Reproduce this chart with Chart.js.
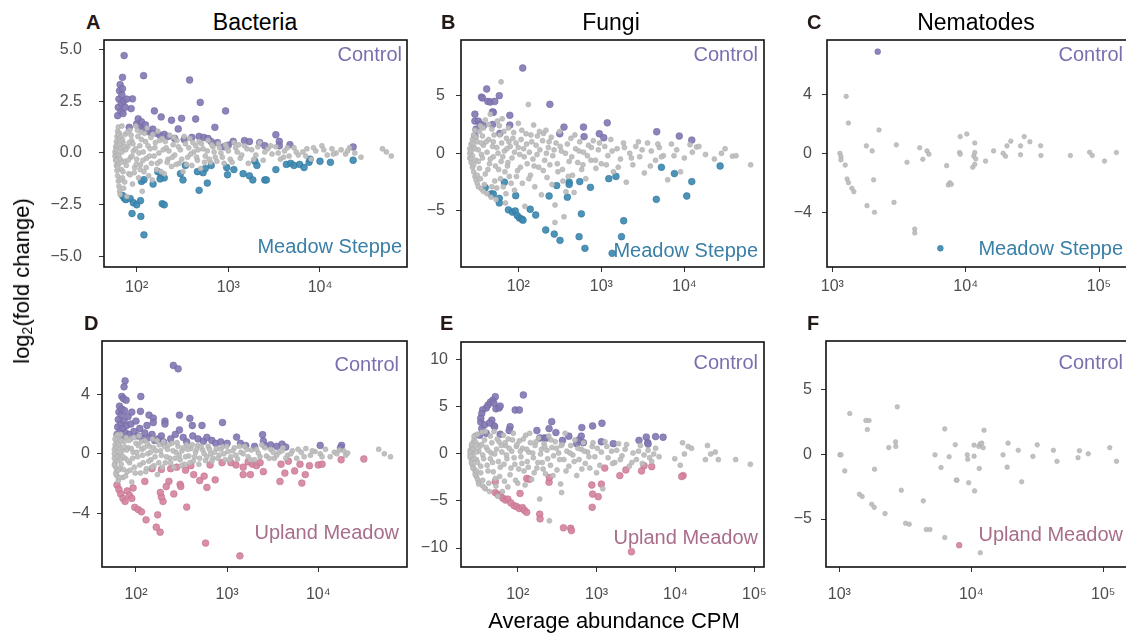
<!DOCTYPE html>
<html><head><meta charset="utf-8">
<script src="https://cdn.jsdelivr.net/npm/chart.js@4"></script>
<style>
html,body{margin:0;padding:0;background:#fff;}
body{width:1126px;height:636px;position:relative;overflow:hidden;font-family:"Liberation Sans",Arial,sans-serif;}
canvas{position:absolute;}
.t{position:absolute;white-space:nowrap;line-height:1;color:#000;}
.ttl{font-size:23px;transform:translateX(-50%);}
.let{font-size:20px;font-weight:bold;color:#231815;}
</style></head><body>
<script>
// ---------- DATA (x = average abundance CPM, y = log2 fold change) ----------
const panelTitles = ['Bacteria','Fungi','Nematodes'];
const panelLetters = ['A','B','C','D','E','F'];
const xTitle = 'Average abundance CPM';

const xTicksA = [100,1000,10000];
const xTicksB = [100,1000,10000];
const xTicksC = [1000,10000,100000];
const xTicksD = [100,1000,10000];
const xTicksE = [100,1000,10000,100000];
const xTicksF = [1000,10000,100000];
const yTicksA = [-5,-2.5,0,2.5,5];
const yTicksB = [-5,0,5];
const yTicksC = [-4,0,4];
const yTicksD = [-4,0,4];
const yTicksE = [-10,-5,0,5,10];
const yTicksF = [-5,0,5];

const aGray = [[58,0.05],[58,-0.15],[59,0.3],[59,-0.35],[60,0.55],[60,-0.6],[61,0.8],[61,-0.85],[62,1.05],[62,-1.1],[63,1.25],[63,-1.35],[64,-1.6],[65,-1.85],[66,-2.0],[60,0.15],[61,-0.1],[62,0.45],[63,-0.55],[64,0.7],[65,0.95],[66,-0.3],[67,0.2],[68,-0.8],[69,1.3],[70,-1.2],[71,0.5],[72,-1.7],[74,-0.4],[75,0.9],
[78,-2.1],[80,0.3],[82,-1.0],[84,1.1],[86,-0.2],[88,0.6],[90,-1.5],[92,0.1],[95,-0.7],[98,1.3],[100,-0.3],[103,0.8],[105,-1.2],[108,0.35],[110,-0.55],[112,1.0],[115,-1.85],[118,0.05],[120,-0.9],[125,0.55],[128,-0.25],[130,1.2],[135,-1.1],[140,0.2],[145,-0.5],[150,0.9],
[155,-0.15],[160,0.5],[165,-0.8],[170,1.05],[175,0.0],[180,-0.4],[190,0.7],[200,-1.0],[210,0.25],[220,-0.3],[230,0.85],[240,-0.65],[250,0.4],[260,-0.1],[275,0.6],[290,-0.5],[300,0.15],[320,-0.9],[340,0.45],[360,-0.2],[380,0.7],[400,-0.6],[420,0.05],[440,0.35],[460,-0.35],[480,0.55],[500,-0.75],
[530,0.2],[560,-0.15],[600,0.6],[640,-0.45],[680,0.3],[720,-0.2],[780,0.45],[830,0.0],[900,-0.5],[960,0.25],[1050,-0.3],[1150,0.5],[1250,0.05],[1350,-0.25],[1500,0.35],[1650,-0.5],[1800,0.15],[2000,-0.1],[2200,0.5],[2400,-0.35],[2700,0.2],[3000,-0.05],[3300,0.3],[3700,-0.3],[4100,0.1],[4600,-0.15],
[5200,0.25],[5800,-0.1],[6500,0.05],[7200,0.2],[8000,-0.3],[9000,0.1],[10500,0.35],[12000,-0.1],[13500,0.2],[15000,0.0],[17000,0.15],[19000,-0.05],[21000,0.25],[28000,-0.2],[48000,0.2],[53000,0.05],[60000,-0.15],
[60,-0.35],[61,0.35],[62,-0.7],[63,0.9],[64,-0.1],[65,0.4],[66,-1.3],[67,0.75],[68,-0.45],[69,0.05],[70,0.65],[71,-0.9],[73,0.3],[74,-1.4],[76,0.15],[77,-0.6],[79,1.0],[81,-0.35],[83,0.5],[85,-1.05],[87,0.85],[89,-0.15],[91,0.45],[94,-0.95],[97,0.2],[99,-0.55],[102,1.1],[106,0.0],[109,-0.8],[113,0.65],[117,-0.35],[122,0.95],[127,-0.7],[133,0.35],[138,-0.15],[143,0.75],[148,-1.3],[158,0.25],[168,-0.5],[178,0.6],[185,-0.9],[195,0.15],[205,0.55],[215,-0.45],[225,0.1],[245,-0.2],[255,0.75],[270,-0.55],[285,0.3],[310,-0.3],[330,0.8],[350,-0.55],[370,0.25],[390,-0.05],[410,0.5],[450,-0.2],[470,0.15],[510,0.45],[550,-0.45],[590,0.1],[620,-0.3],[660,0.4],[700,0.05],[750,-0.4],[800,0.25],[860,-0.2],[930,0.4],[1000,0.1],[1100,-0.45],[1200,0.25],[1300,0.4],[1400,-0.1],[1600,0.2],[1900,-0.3],[2100,0.3],[2500,0.05],[2900,0.35],[3500,0.0],[4000,-0.2],[4400,0.25],[5500,0.05],[7000,-0.15],[8500,0.25],[11000,0.15],[14000,-0.05],[20000,0.1],[24000,0.0]];
const aControl = [[73,4.7],[70,3.65],[119,3.73],[378,3.52],[494,2.44],[933,2.03],[156,2.03],[185,1.74],[240,1.58],[309,1.67],[440,1.64],[713,1.24],[284,1.16],[90,2.61],[87,2.14],[83,1.24],[62,1.8],[63,2.2],[64,2.6],[65,3.0],[66,3.3],[67,2.0],[68,2.4],[69,2.8],[70,3.1],[71,1.9],[72,2.5],[75,2.2],[78,2.6],[100,1.4],[104,1.65],[108,1.3],[113,1.5],[118,1.15],[125,1.35],[132,1.1],[140,1.0],[150,1.15],[165,0.95],[180,0.85],[200,0.9],[220,0.8],[260,0.7],[330,0.65],[400,0.75],[480,0.8],[540,0.75],[600,0.7],[650,0.55],[760,0.5],[900,0.3],[1130,0.56],[1000,0.38],[1500,0.6],[1700,0.55],[2200,0.5],[2500,0.35],[3300,0.88],[3600,0.56],[3600,0.35],[4700,0.4],[23000,0.29]];
const aSteppe = [[120,-3.95],[111,-3.06],[89,-2.92],[73,-2.17],[70,-2.05],[76,-2.25],[85,-2.2],[92,-2.4],[100,-2.5],[110,-2.3],[190,-2.45],[200,-2.5],[113,-1.37],[120,-1.29],[151,-1.5],[170,-0.9],[185,-1.1],[200,-1.2],[180,-1.25],[300,-1.0],[320,-1.3],[340,-0.6],[480,-1.8],[460,-0.9],[530,-0.95],[590,-1.45],[560,-0.75],[650,-0.6],[960,-0.7],[980,-1.05],[1150,-0.8],[1450,-1.0],[1700,-1.1],[1850,-1.3],[1950,-0.4],[2050,-0.6],[2500,-1.3],[2600,-1.3],[3300,-0.8],[4300,-0.55],[4800,-0.5],[5200,-0.6],[6000,-0.55],[6700,-0.7],[7600,-0.45],[7800,-0.3],[10000,-0.4],[13000,-0.45],[23000,-0.35]];

const bGray = [[26,0.0],[26,0.4],[26,-0.4],[27,0.8],[27,-0.8],[27,0.2],[28,1.2],[28,-1.2],[28,-0.2],[29,1.6],[29,-1.6],[29,0.6],[30,-2.0],[30,2.0],[31,-2.3],[31,-0.6],[32,-2.6],[32,1.0],[33,-2.9],[33,0.3],[34,-1.3],[35,2.4],[36,-3.1],[36,-0.1],[37,1.5],[38,-3.3],[38,0.7],[40,-1.8],[40,2.9],[42,-3.5],[42,0.1],[44,1.2],[45,-0.9],[46,3.4],[47,-3.8],[48,2.1],[50,-0.3],[50,1.0],[52,-2.4],[54,-4.0],[55,0.5],[56,2.8],[58,-1.4],[60,1.6],[62,6.2],[62,-0.7],[64,3.0],[66,-2.9],[68,0.2],[70,-4.3],[72,1.3],[74,-1.1],[76,2.2],[78,-2.0],[80,0.6],[84,-0.4],[88,1.8],[90,-3.2],[94,0.9],[98,-1.5],[100,2.6],[104,-0.1],[108,1.2],[112,-2.6],[116,0.4],[120,-4.6],[124,1.7],[128,-0.9],[132,4.23],[136,0.1],[140,-1.9],[145,1.0],[150,-0.5],[153,2.45],[158,-2.9],[164,0.7],[170,1.5],[176,-1.2],[182,0.3],[190,-3.6],[196,1.1],[201,1.73],[208,-0.6],[215,2.0],[222,-2.1],[230,0.5],[240,-1.0],[250,1.4],[260,-0.2],[277,-4.48],[276,-6.0],[285,0.9],[300,-1.6],[315,1.9],[330,0.2],[345,-2.4],[355,-5.5],[375,-3.33],[390,0.8],[410,-0.7],[430,1.3],[450,-1.9],[470,-3.4],[490,0.4],[520,-0.8],[550,1.0],[580,-1.4],[610,0.1],[650,-2.2],[700,0.7],[750,-0.6],[800,1.1],[860,-1.3],[920,0.3],[1000,-0.9],[1100,0.6],[1200,-0.2],[1300,1.2],[1400,-1.6],[1550,0.4],[1700,-0.5],[1850,0.9],[2000,-2.5],[2200,0.0],[2400,-1.0],[2600,0.6],[2900,-0.3],[3300,-1.7],[3600,0.9],[4000,0.2],[4500,-0.6],[5000,0.5],[5600,-0.2],[6300,-2.3],[7000,0.8],[8100,0.3],[9000,-1.6],[10000,-0.4],[11700,0.75],[14000,0.55],[18000,-0.1],[23000,-0.5],[28000,0.0],[31000,0.4],[38000,-0.25],[42000,-0.2],[63000,-1.0],
[27,-0.5],[28,0.9],[29,-1.0],[30,0.4],[31,1.4],[32,-1.9],[33,-0.7],[34,1.9],[35,-2.2],[36,0.9],[37,-0.4],[38,2.2],[39,-2.7],[41,1.0],[43,-1.4],[44,2.5],[46,-0.5],[48,-2.9],[49,0.6],[51,1.6],[53,-1.1],[55,-3.0],[57,0.0],[59,2.4],[61,-2.2],[63,0.9],[65,-0.3],[67,1.9],[69,-1.6],[71,-3.5],[73,0.4],[75,-0.8],[77,1.0],[82,-2.6],[86,1.3],[90,0.1],[95,-2.0],[100,0.5],[106,-1.2],[110,2.0],[118,-0.3],[126,0.8],[134,-2.2],[142,1.6],[155,-1.1],[168,-0.1],[180,1.9],[200,-1.5],[218,0.0],[235,1.0],[255,-2.7],[270,0.3],[295,-0.9],[320,0.6],[340,-1.4],[370,0.0],[400,-2.0],[440,-0.3],[480,1.6],[540,0.2],[600,-1.0],[680,-0.2],[760,0.5],[850,-0.6],[950,0.9],[1150,-1.0],[1350,0.2],[1600,-1.2],[1900,0.5],[2300,-0.4],[2800,1.0],[3100,0.3],[3900,-1.1],[4800,0.8],[5300,-0.3],[7500,-0.2],[12500,0.1],[15000,0.6]];
const bControl = [[113,7.4],[41.6,5.58],[36,4.88],[37,4.8],[43,4.5],[46,4.45],[52,4.5],[59,5.0],[49,3.6],[50,3.55],[79,3.3],[79,2.45],[60,1.73],[49,2.5],[30,3.4],[30,2.8],[31,2.1],[30,1.5],[33,2.8],[35,2.5],[38,2.4],[240,4.25],[355,2.28],[316,1.7],[610,2.28],[620,1.45],[946,1.7],[1070,1.35],[1180,2.65],[4650,1.87],[8700,1.5],[12300,1.15]];
const bSteppe = [[40,-2.98],[47,-3.53],[50,-3.53],[59,-3.9],[59,-4.3],[68,-2.5],[93,-3.67],[76,-4.9],[85,-5.1],[92,-5.0],[97,-5.4],[103,-5.6],[110,-5.7],[114,-5.8],[139,-4.85],[162,-5.35],[214,-6.65],[271,-7.0],[318,-7.55],[235,-3.7],[290,-2.8],[410,-2.5],[410,-2.7],[390,-3.8],[550,-2.45],[575,-5.25],[540,-7.23],[635,-8.24],[740,-2.95],[1230,-2.2],[1500,-2.0],[1860,-5.85],[1750,-7.23],[1350,-8.67],[5300,-1.21],[4600,-3.99],[7600,-1.76],[10700,-3.7],[12300,-2.45],[27000,-1.1]];

const cGray = [[1140,0.0],[1160,-0.23],[1160,-0.45],[1250,-0.8],[1270,3.86],[1320,2.05],[1290,-1.74],[1320,-1.99],[1400,-2.37],[1450,-2.6],[1800,0.5],[1990,0.16],[2040,-1.8],[1820,-3.55],[2070,-4.0],[2240,1.58],[3020,0.57],[2900,-3.33],[3630,-0.61],[4150,-5.14],[4150,-5.4],[4520,0.37],[4770,-0.4],[5130,0.16],[5300,-0.06],[7200,-0.84],[7400,-2.15],[7600,-2.0],[7800,-2.1],[9100,1.13],[9000,0.05],[9100,-0.06],[10200,1.31],[11300,-0.95],[11500,-0.18],[11700,0.7],[11700,0.05],[11700,-0.75],[11900,-0.38],[14100,-0.53],[16200,0.16],[19100,0.0],[19900,-0.2],[20400,0.5],[21800,0.82],[25800,0.5],[25800,-0.1],[27500,1.13],[30300,0.78],[36500,0.51],[36700,-0.15],[61000,-0.15],[85000,0.07],[89000,-0.15],[110000,-0.53],[135000,0.05]];
const cControl = [[2190,6.89]];
const cSteppe = [[6460,-6.44]];

const dGray = [[58,0.0],[58,0.3],[58,-0.3],[59,0.6],[59,-0.6],[60,0.9],[60,-0.9],[61,1.2],[61,-1.2],[62,-1.5],[62,0.15],[63,-0.45],[63,0.75],[64,-1.8],[64,1.05],[65,-0.15],[66,0.5],[67,-1.0],[68,1.3],[69,-0.7],[70,0.2],[72,-1.6],[74,0.8],[76,-0.3],[78,1.1],[80,-1.2],[82,0.4],[85,-0.6],[88,1.0],[90,-1.9],[93,0.1],[96,-0.9],[100,0.7],[104,-0.2],[108,1.2],[112,-1.3],[116,0.3],[120,-0.6],[125,0.9],[130,-1.0],[135,0.0],[140,0.5],[146,-0.4],[152,1.0],[158,-0.8],[165,0.2],[172,-1.4],[180,0.6],[190,-0.1],[200,0.8],[210,-0.6],[222,0.3],[235,-0.3],[248,0.7],[260,-0.9],[275,0.1],[290,0.5],[305,-0.4],[320,0.2],[340,-0.7],[360,0.6],[380,-0.15],[400,0.35],[425,-0.5],[450,0.1],[475,0.55],[500,-0.3],[540,0.25],[580,-0.45],[620,0.5],[660,0.0],[700,-0.3],[760,0.35],[820,-0.1],[880,0.45],[950,-0.4],[1020,0.15],[1100,-0.2],[1200,0.4],[1300,-0.35],[1420,0.1],[1550,0.5],[1700,-0.2],[1850,0.25],[2000,-0.4],[2200,0.05],[2400,0.6],[2700,-0.15],[3000,0.3],[3300,-0.3],[3700,0.1],[4100,0.4],[4600,-0.1],[5200,0.2],[5800,-0.3],[6500,0.1],[7300,0.35],[8200,-0.1],[9200,0.15],[10500,0.0],[12000,0.3],[13500,-0.2],[15000,0.1],[17000,0.25],[20000,-0.1],[21000,0.05],[46000,0.3],[53000,0.0],[62000,-0.2],
[58,-0.75],[59,1.0],[60,-1.35],[61,0.45],[62,-0.2],[63,1.3],[64,-1.1],[65,0.6],[66,-1.6],[67,0.1],[68,-0.35],[69,0.9],[71,-0.15],[73,-1.05],[75,0.45],[77,-1.5],[79,0.25],[81,-0.45],[84,0.9],[86,-1.1],[89,0.35],[92,-0.3],[95,1.1],[98,-1.3],[102,0.1],[106,0.55],[110,-0.75],[114,0.8],[118,-0.1],[123,0.4],[128,-1.2],[133,0.7],[138,-0.5],[144,0.1],[150,-0.9],[156,0.4],[162,-0.2],[170,0.9],[178,-0.6],[186,0.2],[195,-0.9],[205,0.5],[216,-0.2],[228,0.6],[240,-0.6],[255,0.2],[268,-0.3],[282,0.75],[298,-0.1],[315,-0.8],[330,0.4],[350,-0.2],[370,0.3],[390,-0.6],[415,0.6],[440,-0.2],[465,0.3],[490,-0.7],[520,0.5],[560,0.0],[600,-0.2],[640,0.3],[680,-0.5],[730,0.1],[790,-0.3],[850,0.3],[920,0.0],[990,0.5],[1060,-0.4],[1150,0.2],[1250,-0.1],[1360,0.5],[1500,0.0],[1650,0.3],[1800,-0.4],[2100,0.3],[2300,-0.2],[2600,0.4],[2900,-0.3],[3200,0.1],[3500,-0.1],[4000,0.2],[4400,-0.3],[5000,0.0],[6000,0.3],[7000,-0.2],[8600,0.2],[11000,-0.2],[16000,0.0],[19000,0.2]];
const dControl = [[257,5.94],[290,5.71],[76,4.9],[74,4.5],[113,3.85],[70,3.85],[73,3.7],[78,3.6],[112,2.85],[139,2.6],[155,2.4],[155,2.1],[208,2.2],[208,2.0],[300,2.6],[390,2.38],[415,1.9],[530,1.9],[890,2.1],[300,1.6],[62,1.3],[63,1.8],[64,2.3],[65,2.8],[66,3.2],[67,1.5],[68,2.0],[69,2.6],[70,3.0],[71,1.2],[72,1.7],[74,2.2],[75,2.9],[77,1.4],[79,1.9],[82,2.5],[85,1.3],[88,2.0],[90,2.8],[95,1.5],[100,2.2],[105,1.2],[110,1.7],[118,1.0],[125,1.4],[132,1.9],[140,1.1],[150,1.3],[160,0.9],[175,1.0],[190,1.2],[200,0.8],[240,1.0],[270,1.3],[330,1.1],[360,0.8],[420,1.2],[480,1.0],[550,0.85],[600,1.1],[680,0.9],[750,0.7],[850,0.8],[1000,0.7],[1270,1.12],[1400,0.7],[1600,0.55],[2000,0.5],[2450,1.28],[2500,0.85],[2600,0.55],[3000,0.6],[3500,0.5],[4000,0.65],[4400,0.45],[10500,0.56],[18000,0.56],[17500,0.4]];
const dUpland = [[1380,-6.86],[580,-6.0],[184,-5.27],[167,-4.93],[129,-4.44],[173,-4.1],[97,-3.6],[106,-3.75],[115,-3.9],[360,-3.58],[198,-3.2],[190,-2.9],[185,-2.6],[260,-2.7],[305,-2.05],[310,-2.2],[230,-1.85],[215,-2.2],[125,-1.86],[62,-2.1],[65,-2.4],[68,-2.7],[72,-3.0],[76,-3.2],[80,-2.5],[85,-2.8],[90,-3.0],[93,-2.3],[430,-1.4],[500,-1.8],[560,-1.5],[600,-2.26],[740,-1.75],[880,-0.6],[1100,-0.6],[1250,-0.75],[1500,-0.9],[1700,-0.55],[1900,-0.7],[2100,-0.8],[2300,-0.6],[1500,-1.4],[1800,-1.4],[2500,-1.2],[3800,-1.86],[4300,-1.3],[3900,-0.7],[4700,-0.5],[5500,-1.15],[6600,-1.97],[7200,-1.4],[6300,-0.7],[8000,-0.8],[10000,-0.75],[11000,-0.7],[17800,-0.4],[31600,-0.35],[150,-1.0],[190,-1.05],[240,-1.0],[280,-0.9],[350,-1.1],[400,-0.8],[650,-0.75]];

const eGray = [[25,0.0],[25,0.4],[25,-0.4],[26,0.8],[26,-0.8],[26,0.2],[27,1.2],[27,-1.2],[27,-0.2],[28,1.6],[28,-1.6],[28,0.6],[29,-2.0],[29,2.0],[30,-2.4],[30,-0.6],[31,-2.7],[31,1.0],[32,-3.0],[32,0.3],[34,-1.3],[35,2.3],[36,-3.4],[36,-0.1],[38,1.5],[39,-3.7],[40,0.7],[42,-1.8],[44,-4.0],[45,1.9],[46,0.1],[48,-0.9],[50,2.4],[52,-2.6],[54,0.5],[56,-4.5],[58,1.3],[60,-1.4],[63,0.2],[66,2.0],[68,-2.9],[70,0.9],[73,-0.5],[76,1.6],[80,-2.2],[84,0.3],[88,2.2],[92,-1.1],[96,0.8],[100,-3.1],[105,1.4],[110,-0.3],[115,0.6],[120,-1.8],[126,2.0],[132,-0.8],[138,0.2],[145,1.2],[150,-2.7],[158,-0.4],[166,0.9],[175,-1.5],[184,1.7],[190,-4.8],[195,0.0],[205,-0.9],[215,1.1],[225,-2.1],[235,0.4],[248,1.9],[252,-7.1],[260,-1.2],[272,0.7],[285,-0.2],[300,1.3],[315,-1.7],[330,0.1],[350,-3.2],[360,-4.1],[365,1.0],[385,-0.6],[400,2.2],[420,0.3],[445,-1.3],[470,0.9],[500,-0.1],[530,1.5],[560,-2.3],[600,-0.6],[640,0.5],[680,1.2],[720,-1.0],[770,0.2],[820,-1.5],[880,0.8],[950,-0.3],[1020,0.6],[1100,-1.2],[1200,-3.7],[1280,1.3],[1400,-0.4],[1550,0.3],[1700,-0.9],[1900,1.1],[2100,-0.2],[2300,0.5],[2600,-1.3],[2900,0.1],[3200,-0.6],[3600,0.9],[4000,-0.1],[4500,0.4],[5000,-0.8],[5600,0.6],[6200,-0.3],[9800,-0.5],[11500,-1.2],[12300,1.2],[13000,0.0],[14500,0.8],[16000,0.6],[24000,-0.6],[25500,0.9],[28000,0.0],[32000,0.2],[35000,-0.6],[58000,-0.6],[89000,-1.1],
[25,0.2],[25,-0.2],[26,1.0],[26,-1.0],[27,0.5],[27,-1.5],[28,1.9],[28,-0.5],[29,-2.2],[29,1.3],[30,0.2],[30,-1.8],[31,-0.9],[31,2.1],[32,-3.2],[33,0.8],[34,-2.0],[35,1.0],[36,-2.8],[37,-0.5],[38,-3.6],[39,2.4],[41,-1.2],[42,0.4],[43,-3.1],[45,-0.5],[47,1.2],[49,-1.9],[51,0.0],[53,-3.4],[55,1.6],[57,-0.8],[59,-2.4],[62,0.9],[64,-4.0],[67,-1.1],[69,1.2],[72,-0.1],[75,-3.5],[78,0.6],[82,-1.5],[86,1.5],[90,-0.4],[94,-2.8],[98,1.0],[103,-1.6],[108,0.3],[113,-1.0],[118,1.6],[124,-3.3],[130,0.5],[136,-1.4],[142,2.2],[155,0.1],[162,-2.0],[170,1.3],[180,-0.9],[200,0.5],[210,-1.6],[220,0.8],[240,-0.5],[265,1.5],[280,-2.3],[310,0.6],[340,-0.6],[355,0.9],[410,-1.8],[460,0.1],[520,-0.8],[580,0.6],[650,-1.6],[700,0.3],[800,-0.3],[900,1.2],[1000,-2.0],[1150,0.2],[1350,0.8],[1600,-1.0],[1800,0.4],[2000,-0.6],[2400,1.0],[2800,-0.9],[3400,0.3],[3800,-1.0],[4700,-0.4],[5300,0.0]];
const eControl = [[118,6.28],[52,6.1],[48,5.7],[45,5.5],[42,5.2],[40,4.9],[50,5.4],[53,4.8],[58,4.9],[60,5.1],[36,4.7],[35,4.3],[93,4.68],[105,4.68],[47,3.6],[50,3.0],[51,2.9],[34,3.4],[35,2.7],[33,2.0],[34,3.8],[60,2.1],[80,2.9],[78,2.5],[175,2.5],[190,1.7],[215,1.7],[233,1.7],[270,3.44],[250,2.7],[305,2.28],[370,1.45],[445,1.89],[560,1.1],[600,1.5],[640,1.9],[650,2.81],[680,1.2],[890,2.98],[1170,3.27],[1150,1.3],[1630,1.1],[3450,1.45],[4270,1.8],[4450,1.2],[4500,1.05],[5600,1.85],[6970,1.78],[38,3.1],[40,2.2],[44,3.3]];
const eUpland = [[2770,-10.4],[380,-7.85],[470,-7.9],[480,-8.15],[880,-5.67],[890,-4.26],[1050,-4.54],[870,-3.3],[1150,-3.2],[1270,-1.5],[1970,-2.3],[2350,-1.7],[3720,-1.8],[4000,-1.25],[5000,-1.35],[12500,-2.3],[12000,-2.4],[52,-2.95],[52,-4.1],[56,-4.3],[60,-4.4],[65,-4.7],[70,-4.9],[75,-4.8],[82,-5.2],[90,-5.5],[97,-5.6],[105,-5.8],[115,-5.7],[122,-6.0],[130,-6.2],[107,-4.2],[190,-6.4],[192,-6.9],[130,-2.6],[250,-3.0],[252,-2.5],[140,-2.7]];

const fGray = [[1010,-0.05],[1030,-0.05],[1100,-1.29],[1200,3.14],[1420,-3.09],[1490,-3.26],[1590,2.6],[1680,2.6],[1630,1.9],[1760,-3.86],[1840,-4.1],[1850,-1.16],[2220,-4.58],[2370,0.51],[2670,0.95],[2680,0.6],[2750,3.65],[2950,-2.78],[3180,-5.33],[3390,-5.4],[4330,-3.6],[4560,-5.81],[4860,-5.81],[5310,-0.05],[5900,-1.03],[6300,1.95],[6300,-6.43],[6800,-0.2],[7560,0.73],[7700,-2.0],[7800,-2.0],[9330,-0.05],[9400,-0.39],[9560,-2.2],[10500,-0.15],[10500,0.7],[10600,-2.83],[11400,0.6],[11500,-1.1],[11700,0.8],[12000,0.85],[11700,-7.6],[12500,1.85],[12300,0.5],[17400,-0.05],[18700,-1.0],[19000,0.85],[22700,0.3],[24100,-2.13],[29300,-0.17],[31600,0.72],[41900,0.3],[44600,-0.55],[64400,-0.27],[66000,0.27],[77000,0.03],[112000,0.5],[126000,-0.55]];
const fUpland = [[8100,-7.02]];

// ---------- STYLE ----------
const FONT = '"Liberation Sans", Arial, Helvetica, sans-serif';
const GRAY = 'rgba(190,190,190,0.95)', GRAY_E = 'rgba(172,172,172,0.9)';
const PURP = 'rgba(134,122,180,0.92)', PURP_E = 'rgba(110,98,160,0.9)';
const BLUE = 'rgba(62,138,178,0.92)', BLUE_E = 'rgba(45,115,155,0.9)';
const PINK = 'rgba(214,132,160,0.92)', PINK_E = 'rgba(190,110,140,0.9)';
const C_CTRL = '#7a6fae', C_STEP = '#3a7fa6', C_UPL = '#a86d8a';
Chart.defaults.font.family = FONT;

const SUP = {'2':'\u00B2','3':'\u00B3','4':'\u2074','5':'\u2075'};
const expLabel = v => '10' + SUP[String(Math.round(Math.log10(v)))];
const numLabel = dec => v => (v < 0 ? '\u2212' : '') + Math.abs(v).toFixed(dec);

const YW = 70, XH = 48, PT = 4, PR = 4;

function addText(txt, cls, left, top, extra) {
  const d = document.createElement('div');
  d.className = 't ' + cls;
  d.innerHTML = txt;
  d.style.left = left + 'px';
  d.style.top = top + 'px';
  if (extra) Object.assign(d.style, extra);
  document.body.appendChild(d);
}

function panel(cfg) {
  const c = document.createElement('canvas');
  let w = cfg.R - cfg.L + YW + PR, h = cfg.B - cfg.T + PT + XH;
  c.width = w; c.height = h;
  c.style.left = (cfg.L - YW) + 'px'; c.style.top = (cfg.T - PT) + 'px';
  c.style.width = w + 'px'; c.style.height = h + 'px';
  document.body.appendChild(c);
  const gridOpt = {display:true, drawOnChartArea:false, drawTicks:true, tickLength:5, color:'#333', lineWidth:1};
  const boxPlugin = {
    id:'box'+cfg.id,
    afterDraw(ch) {
      const a = ch.chartArea, ctx = ch.ctx;
      ctx.save();
      ctx.strokeStyle = '#111'; ctx.lineWidth = 1.6;
      ctx.strokeRect(a.left, a.top, a.right - a.left, a.bottom - a.top);
      ctx.font = '20px ' + FONT; ctx.textAlign = 'right'; ctx.textBaseline = 'alphabetic';
      ctx.fillStyle = C_CTRL; ctx.fillText('Control', a.right - cfg.lr, a.top + cfg.lt);
      ctx.fillStyle = cfg.lowColor; ctx.fillText(cfg.lowLabel, a.right - cfg.lr, a.bottom - cfg.lb);
      ctx.restore();
    }
  };
  const sets = cfg.sets.map(s => ({
    data: s.pts.map(p => ({x:p[0], y:p[1]})),
    backgroundColor: s.fill, borderColor: s.stroke, borderWidth: 0.6,
    pointRadius: s.r, pointHoverRadius: s.r
  }));
  const ch = new Chart(c, {
    type:'scatter',
    data:{datasets:sets},
    options:{
      responsive:false, animation:false, events:[], devicePixelRatio:1,
      layout:{padding:{top:PT, right:PR, left:0, bottom:0}},
      plugins:{legend:{display:false}, tooltip:{enabled:false}},
      scales:{
        x:{type:'logarithmic', min:cfg.xmin, max:cfg.xmax,
           afterFit(s){ s.height = XH; s.paddingLeft = 0; s.paddingRight = 0; },
           afterBuildTicks(s){ s.ticks = cfg.xt.map(v => ({value:v})); },
           grid:gridOpt, border:{display:false},
           ticks:{padding:cfg.xpad, color:'#4d4d4d', font:{size:16, family:FONT}, maxRotation:0, autoSkip:false,
                  callback:(v) => expLabel(v)}},
        y:{type:'linear', min:cfg.ymin, max:cfg.ymax,
           afterFit(s){ s.width = YW; s.paddingTop = 0; s.paddingBottom = 0; },
           afterBuildTicks(s){ s.ticks = cfg.yt.map(v => ({value:v})); },
           grid:gridOpt, border:{display:false},
           ticks:{padding:cfg.ypad, color:'#4d4d4d', font:{size:16, family:FONT}, autoSkip:false,
                  callback:numLabel(cfg.ydec)}}
      }
    },
    plugins:[boxPlugin]
  });
  // align the chart area exactly on the intended plot box
  for (let k = 0; k < 2; k++) {
    const a = ch.chartArea;
    const ot = a.top, ol = a.left, ob = h - a.bottom, orr = w - a.right;
    if (Math.abs(ot - PT) < 0.5 && Math.abs(ol - YW) < 0.5 && Math.abs(ob - XH) < 0.5 && Math.abs(orr - PR) < 0.5 && k > 0) break;
    const nw = Math.round((cfg.R - cfg.L) + ol + orr), nh = Math.round((cfg.B - cfg.T) + ot + ob);
    c.style.left = (cfg.L - ol) + 'px'; c.style.top = (cfg.T - ot) + 'px';
    ch.resize(nw, nh);
    w = nw; h = nh;
  }
}

const gS = (pts, r) => ({pts, fill:GRAY, stroke:GRAY_E, r});
const pS = (pts, r) => ({pts, fill:PURP, stroke:PURP_E, r});
const bS = (pts, r) => ({pts, fill:BLUE, stroke:BLUE_E, r});
const kS = (pts, r) => ({pts, fill:PINK, stroke:PINK_E, r});

panel({id:'A', L:104, R:407, T:40, B:267, xmin:44, xmax:89000, ymin:-5.5, ymax:5.45, xt:xTicksA, yt:yTicksA, ydec:1, xpad:6, ypad:17,
  sets:[gS(aGray,2.5), pS(aControl,3.4), bS(aSteppe,3.4)], lowLabel:'Meadow Steppe', lowColor:C_STEP, lt:21, lb:14, lr:5});
panel({id:'B', L:461, R:764, T:40, B:267, xmin:20.4, xmax:91200, ymin:-9.86, ymax:9.83, xt:xTicksB, yt:yTicksB, ydec:0, xpad:5, ypad:11,
  sets:[gS(bGray,2.5), pS(bControl,3.4), bS(bSteppe,3.4)], lowLabel:'Meadow Steppe', lowColor:C_STEP, lt:21, lb:10, lr:6});
panel({id:'C', L:827, R:1128, T:40, B:267, xmin:912, xmax:165000, ymin:-7.71, ymax:7.68, xt:xTicksC, yt:yTicksC, ydec:0, xpad:5, ypad:10,
  sets:[gS(cGray,2.3), pS(cControl,2.9), bS(cSteppe,2.9)], lowLabel:'Meadow Steppe', lowColor:C_STEP, lt:21, lb:12, lr:5});
panel({id:'D', L:102, R:407, T:341, B:567, xmin:42.4, xmax:94000, ymin:-7.61, ymax:7.58, xt:xTicksD, yt:yTicksD, ydec:0, xpad:13, ypad:7,
  sets:[gS(dGray,2.5), pS(dControl,3.4), kS(dUpland,3.4)], lowLabel:'Upland Meadow', lowColor:C_UPL, lt:30, lb:28, lr:8});
panel({id:'E', L:461, R:764, T:342, B:567, xmin:19.1, xmax:132700, ymin:-12.02, ymax:11.91, xt:xTicksE, yt:yTicksE, ydec:0, xpad:13, ypad:8,
  sets:[gS(eGray,2.5), pS(eControl,3.4), kS(eUpland,3.4)], lowLabel:'Upland Meadow', lowColor:C_UPL, lt:27, lb:23, lr:6});
panel({id:'F', L:826, R:1128, T:341, B:567, xmin:793, xmax:154000, ymin:-8.7, ymax:8.73, xt:xTicksF, yt:yTicksF, ydec:0, xpad:13, ypad:9,
  sets:[gS(fGray,2.3), kS(fUpland,2.9)], lowLabel:'Upland Meadow', lowColor:C_UPL, lt:28, lb:26, lr:5});

// ---------- TEXT ----------
addText(panelTitles[0], 'ttl', 255, 11);
addText(panelTitles[1], 'ttl', 611, 11);
addText(panelTitles[2], 'ttl', 976, 11);
addText(panelLetters[0], 'let', 86, 12);
addText(panelLetters[1], 'let', 441, 12);
addText(panelLetters[2], 'let', 807, 12);
addText(panelLetters[3], 'let', 84, 313);
addText(panelLetters[4], 'let', 440, 313);
addText(panelLetters[5], 'let', 807, 313);
addText(xTitle, 't', 614, 610, {fontSize:'22px', transform:'translateX(-50%)'});
addText('log<sub style="font-size:14px;vertical-align:-3px;line-height:0">2</sub>(fold change)', 't', 22, 281,
  {fontSize:'22px', transform:'translate(-50%,-50%) rotate(-90deg)'});
</script>
</body></html>
